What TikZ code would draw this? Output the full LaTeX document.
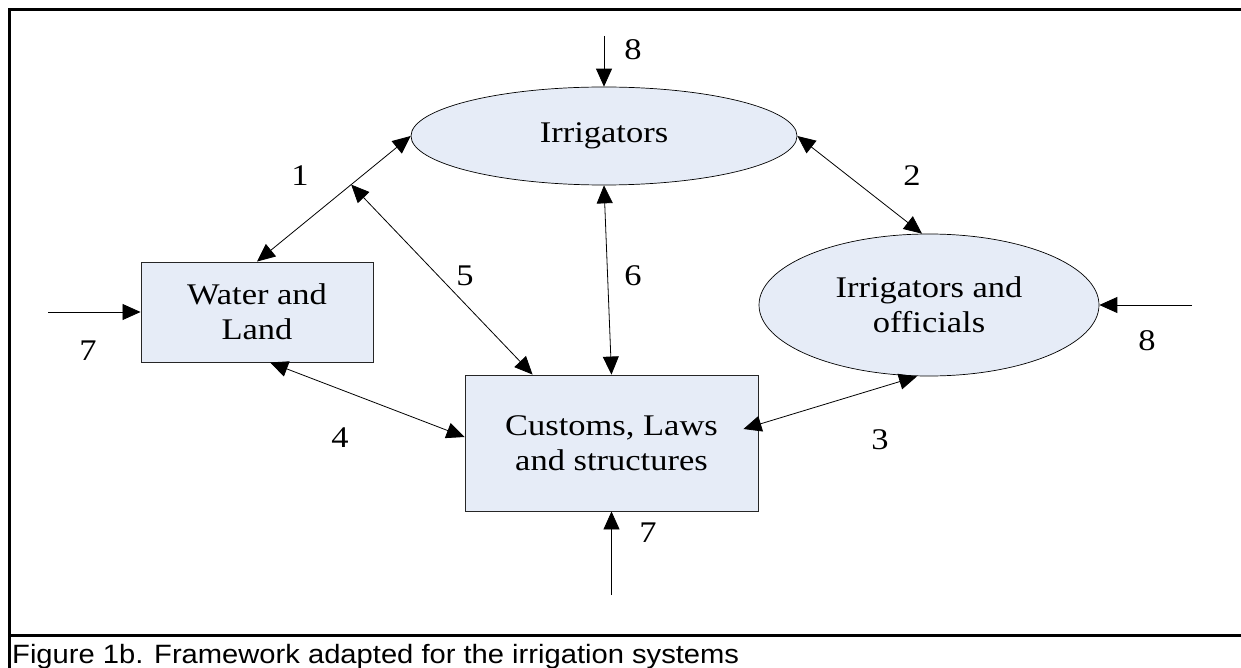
\documentclass[tikz,border=0pt]{standalone}
\usepackage{fontspec}
\setmainfont{Liberation Serif}[FakeStretch=1.15]
\newfontfamily\capfont{Liberation Sans}[FakeStretch=1.1]
\usetikzlibrary{arrows.meta,shapes.geometric,calc}
\definecolor{boxfill}{HTML}{E6ECF7}
\begin{document}
\begin{tikzpicture}[x=1pt,y=-1pt,
  every node/.style={font=\fontsize{30}{35}\selectfont},
  elli/.style={ellipse,draw=black,line width=0.7pt,fill=boxfill,inner sep=0pt,align=center},
  rbox/.style={rectangle,draw=black!85,line width=0.9pt,fill=boxfill,inner sep=0pt,align=center},
  conn/.style={line width=0.8pt,-{Triangle[length=18pt,width=16pt]}},
  bconn/.style={line width=0.8pt,{Triangle[length=18pt,width=16pt]}-{Triangle[length=18pt,width=16pt]}},
  num/.style={inner sep=0pt}]
\useasboundingbox (0,0) rectangle (1241,668);
% frame
\draw[line width=3pt] (1241,10) -- (9,10) -- (9,668);
\draw[line width=3pt] (9,635) -- (1241,635);
\node[anchor=base west,inner sep=0pt,font=\capfont\fontsize{26.5}{30}\selectfont] (cap) at (12,663) {Figure 1b. Framework adapted for the irrigation systems};
% nodes
\node[elli,minimum width=386pt,minimum height=98pt] (irr) at (604,136) {Irrigators};
\node[elli,minimum width=340pt,minimum height=142pt] (io) at (929,305) {Irrigators and\\officials};
\node[rbox,minimum width=232pt,minimum height=100pt] (wl) at (257,312) {Water and\\Land};
\node[rbox,minimum width=293pt,minimum height=136pt] (cl) at (611.5,443) {Customs, Laws\\and structures};
% free ends
\coordinate (in7a) at (48,312);
\coordinate (in7b) at (611.5,595);
\coordinate (in8a) at (604,36);
\coordinate (in8b) at (1192,305);
\coordinate (mid1) at ($(wl.north)!0.613!(irr.west)$);
% connectors
\draw[bconn] (wl.north) -- (irr.west);
\draw[bconn] (mid1) -- ([xshift=68pt]cl.north west);
\draw[bconn] (irr.south) -- (cl.north);
\draw[bconn] (irr.east) -- ([xshift=-7pt]io.north);
\draw[bconn] ([xshift=-15pt,yshift=14pt]cl.east) -- ([xshift=-12pt]io.south);
\draw[bconn] ([xshift=13pt]wl.south) -- ([yshift=6pt]cl.west);
\draw[conn] (in7a) -- (wl.west);
\draw[conn] (in7b) -- (cl.south);
\draw[conn] (in8a) -- (irr.north);
\draw[conn] (in8b) -- (io.east);
% labels
\node[num] (n1) at (300,176) {1};
\node[num] (n2) at (912,176) {2};
\node[num] (n3) at (880,440) {3};
\node[num] (n4) at (340,438) {4};
\node[num] (n5) at (465,276) {5};
\node[num] (n6) at (633,276) {6};
\node[num] (n7a) at (88,351) {7};
\node[num] (n7b) at (648,533) {7};
\node[num] (n8a) at (633,50) {8};
\node[num] (n8b) at (1147,341) {8};
\end{tikzpicture}
\end{document}
